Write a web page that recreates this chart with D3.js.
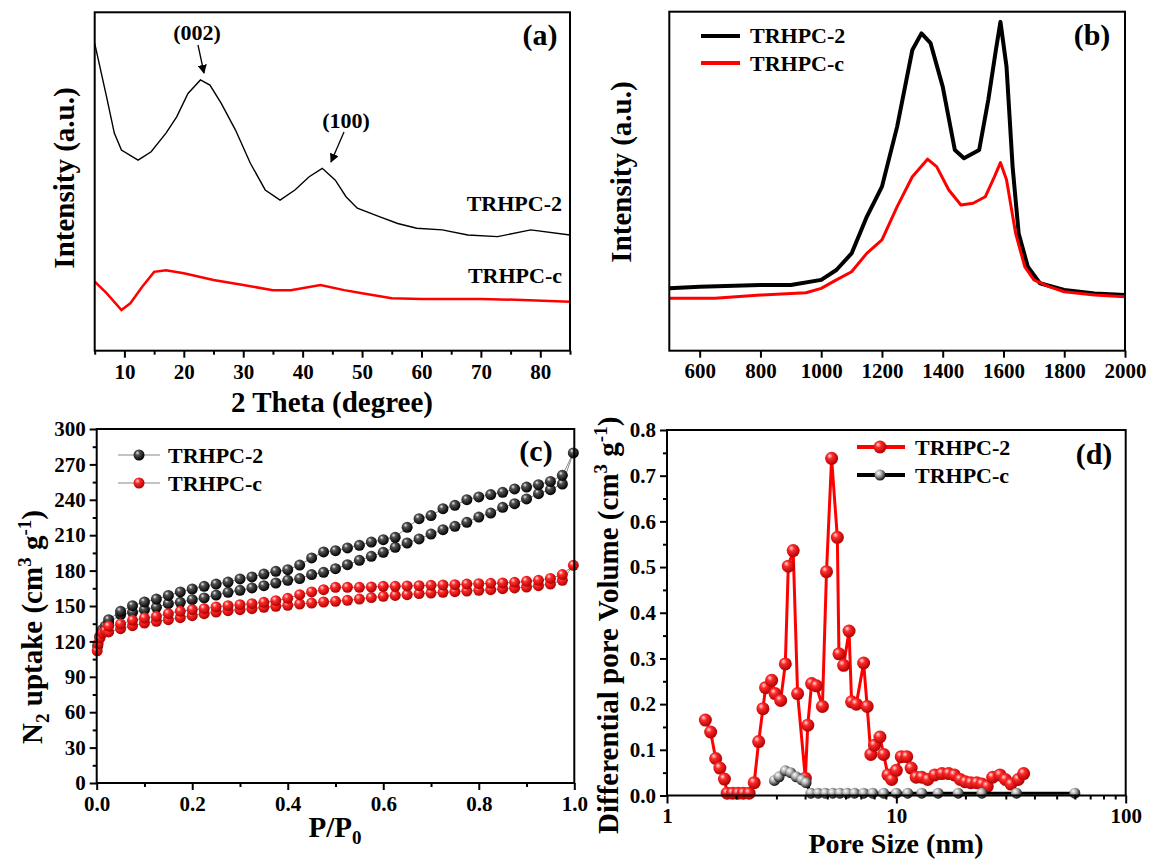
<!DOCTYPE html>
<html>
<head>
<meta charset="utf-8">
<script src="https://cdn.jsdelivr.net/npm/d3@7"></script>
<style>
body { margin: 0; background: #fff; }
svg { font-family: "Liberation Serif", "Times New Roman", serif; font-weight: bold; }
.axis text { font-size: 21px; font-weight: bold; fill: #000; font-family: "Liberation Serif", serif; }
.axis line { stroke: #000; stroke-width: 2; }
.axis path { display: none; }
</style>
</head>
<body>
<script>
// (a) XRD
var xrdTheta2 = [5, 7, 8.3, 9.5, 12.3, 14.5, 17, 18.8, 20.7, 22.8, 24.4, 26.3, 28.7, 31.2, 33.7, 36.2, 38.7, 41.1, 43.3, 45.5, 47.3, 49.2, 52.9, 56, 59.2, 63.5, 67.8, 72.8, 78.4, 85];
var xrdTRHPC2 = [90.8, 75, 64.3, 59.3, 56.3, 58.8, 64.3, 69.1, 76, 80, 78.5, 73.1, 65.2, 55.4, 47.5, 44.5, 47.5, 51.4, 53.9, 50.4, 45.5, 42.1, 39.6, 37.6, 36.2, 35.7, 34.2, 33.7, 35.7, 34.2];
var xrdThetaC = [5, 7, 9.5, 11, 13, 15, 17, 20, 25, 30, 35, 38, 43, 47, 50, 55, 60, 70, 77, 85];
var xrdTRHPCc = [20.4, 17, 12, 14, 18.9, 23.3, 23.8, 22.9, 20.9, 19.4, 17.9, 17.9, 19.4, 17.9, 17, 15.5, 15.3, 15.3, 15, 14.5];

// (b) Raman
var ramanShift2 = [500, 600, 800, 900, 1000, 1050, 1100, 1150, 1200, 1250, 1300, 1330, 1360, 1400, 1440, 1470, 1520, 1550, 1575, 1590, 1610, 1630, 1650, 1680, 1720, 1800, 1900, 2000];
var ramanTRHPC2 = [18.4, 18.9, 19.4, 19.4, 20.9, 23.8, 28.7, 39.5, 48.4, 66.1, 88.7, 93.6, 90.7, 77.9, 59.2, 56.8, 59.2, 74, 88.7, 97, 83.8, 54.3, 34.6, 24.8, 19.9, 17.9, 16.9, 16.4];
var ramanShiftC = [500, 650, 800, 950, 1000, 1050, 1100, 1150, 1200, 1250, 1300, 1350, 1380, 1420, 1460, 1500, 1540, 1570, 1590, 1610, 1640, 1670, 1700, 1750, 1800, 1900, 2000];
var ramanTRHPCc = [15.5, 15.5, 16.4, 17.1, 18.4, 20.9, 23.3, 28.7, 32.7, 42.5, 51.3, 56.5, 54.3, 47.4, 43, 43.5, 45.4, 51.3, 55.5, 50.4, 34.6, 24.8, 20.9, 18.9, 17.4, 16.4, 15.9];

// (c) N2 isotherms
var isoP = d3.range(1, 40).map(function(i) { return i * 0.025; });
var lowP2 = [0.002, 0.006, 0.012, 0.018];
var lowN2 = [116, 124, 130, 133];
var adsTRHPC2 = [135.6, 142.7, 144.6, 146.9, 148.9, 152, 153.1, 155.4, 156.8, 159.3, 161.6, 163.3, 165.3, 167.2, 169.5, 171.8, 173.2, 176.6, 178.5, 181.6, 185, 188.7, 192.1, 195.5, 199.7, 203.4, 206.8, 211, 214.7, 217.5, 220.9, 225.4, 228.8, 233.6, 236.7, 240.7, 245.2, 248.6, 253.4];
var desTRHPC2 = [138.4, 145.5, 150.3, 153.4, 155.9, 159, 161.9, 164.4, 166.7, 168.6, 170.3, 172.9, 174.6, 177.1, 179.4, 180.8, 184.7, 190.7, 195.8, 196.9, 199.2, 201.4, 204.2, 206.2, 208.2, 216.7, 224, 226.6, 232.5, 235.3, 240.1, 242.4, 244.4, 246.3, 249.2, 250.8, 252.8, 255.6, 260.7];
var topTRHPC2 = [0.998, 279.7];
var lowPc = [0.001, 0.003, 0.007, 0.012, 0.018];
var lowNc = [112, 118, 123, 127, 129];
var adsTRHPCc = [128, 130.8, 133.3, 135.6, 137, 138.4, 140.1, 141.8, 143.5, 144.9, 146, 146.9, 147.7, 148.9, 149.7, 150.6, 151.7, 152.5, 153.4, 154, 154.8, 155.9, 157.1, 158.2, 159, 159.6, 160.5, 161, 161.6, 162.1, 162.7, 163.3, 163.8, 164.7, 165.3, 166.1, 167.2, 168.6, 171.8];
var desTRHPCc = [132.8, 134.7, 137.9, 139.8, 141.2, 143.5, 145.5, 146.9, 147.7, 149.2, 150.3, 151.1, 152, 153.1, 154.5, 156.5, 159.6, 161.9, 163.8, 165.8, 165.8, 165.8, 166.1, 166.7, 166.7, 167, 167.2, 167.5, 167.8, 168.1, 168.6, 168.9, 169.2, 169.5, 170.1, 170.9, 171.8, 173.4, 176.6];
var topTRHPCc = [0.998, 184.5];

// (d) pore size distribution
var poreSize2 = [1.47, 1.55, 1.63, 1.70, 1.78, 1.83, 1.93, 2.04, 2.15, 2.28, 2.40, 2.51, 2.62, 2.69, 2.86, 2.96, 3.13, 3.28, 3.38, 3.55, 3.71, 4.01, 4.11, 4.27, 4.48, 4.76, 4.96, 5.22, 5.53, 5.62, 5.89, 6.22, 6.38, 6.69, 7.2, 7.46, 7.74, 8.03, 8.48, 8.8, 9.19, 9.54, 10, 10.5, 11.1, 11.6, 12.2, 12.9, 13.7, 14.7, 15.8, 16.9, 17.9, 19, 20, 21.1, 22.4, 23.6, 24.9, 26.3, 28.3, 29.9, 31.6, 34, 35.9];
var poreVol2 = [0.165, 0.139, 0.081, 0.06, 0.036, 0.005, 0.005, 0.005, 0.005, 0.005, 0.028, 0.118, 0.19, 0.236, 0.252, 0.223, 0.208, 0.288, 0.502, 0.536, 0.223, 0.038, 0.154, 0.245, 0.24, 0.195, 0.49, 0.738, 0.565, 0.31, 0.285, 0.36, 0.205, 0.2, 0.29, 0.195, 0.09, 0.11, 0.128, 0.09, 0.045, 0.035, 0.055, 0.085, 0.085, 0.06, 0.04, 0.04, 0.035, 0.045, 0.048, 0.048, 0.045, 0.035, 0.03, 0.028, 0.028, 0.025, 0.02, 0.04, 0.045, 0.035, 0.025, 0.035, 0.048];
var poreSizeC = [2.94, 3.08, 3.28, 3.46, 3.66, 3.87, 4.04, 4.24, 4.56, 4.9, 5.28, 5.67, 6.1, 6.57, 7.2, 7.88, 8.8, 10, 11.2, 12.9, 15.2, 18.6, 23.6, 33.4, 60];
var poreVolC = [0.033, 0.041, 0.054, 0.05, 0.041, 0.034, 0.028, 0.005, 0.005, 0.005, 0.005, 0.005, 0.005, 0.005, 0.005, 0.005, 0.005, 0.005, 0.005, 0.005, 0.005, 0.005, 0.005, 0.005, 0.005];

var svg = d3.select('body')
    .append('svg')
    .attr('width', 1149)
    .attr('height', 860);

var defs = svg.append('defs');
function ball(id, stops) {
    var g = defs.append('radialGradient').attr('id', id)
        .attr('cx', '40%').attr('cy', '38%').attr('r', '62%').attr('fx', '35%').attr('fy', '30%');
    stops.forEach(function(s) {
        g.append('stop').attr('offset', s[0]).attr('stop-color', s[1]);
    });
}
ball('ballBlack', [[0, '#f0f0f0'], [0.3, '#555'], [1, '#000']]);
ball('ballRed', [[0, '#ffe0e0'], [0.35, '#ff2a2a'], [1, '#b00000']]);
ball('ballGray', [[0, '#ffffff'], [0.45, '#aaaaaa'], [1, '#111']]);

var zip = function(a, b) { return a.map(function(d, i) { return [d, b[i]]; }); };

function frame(x, y) {
    svg.append('rect')
        .attr('x', x.range()[0]).attr('y', y.range()[1])
        .attr('width', x.range()[1] - x.range()[0])
        .attr('height', y.range()[0] - y.range()[1])
        .attr('fill', 'none').attr('stroke', '#000').attr('stroke-width', 2);
}

function xAxis(x, y, major, minor, size, pad, fmt) {
    svg.append('g').attr('class', 'axis')
        .attr('transform', 'translate(0,' + y.range()[0] + ')')
        .call(d3.axisBottom(x).tickValues(minor).tickSize(4).tickFormat(''));
    svg.append('g').attr('class', 'axis')
        .attr('transform', 'translate(0,' + y.range()[0] + ')')
        .call(d3.axisBottom(x).tickValues(major).tickSize(size).tickPadding(pad).tickFormat(fmt));
}

function yAxis(x, y, major, minor, fmt) {
    svg.append('g').attr('class', 'axis')
        .attr('transform', 'translate(' + x.range()[0] + ',0)')
        .call(d3.axisLeft(y).tickValues(minor).tickSize(4).tickFormat(''));
    svg.append('g').attr('class', 'axis')
        .attr('transform', 'translate(' + x.range()[0] + ',0)')
        .call(d3.axisLeft(y).tickValues(major).tickSize(7).tickPadding(4).tickFormat(fmt));
}

function label(x, y, txt, size, anchor) {
    return svg.append('text')
        .attr('x', x).attr('y', y)
        .attr('text-anchor', anchor || 'middle')
        .attr('dominant-baseline', 'central')
        .style('font-size', size + 'px')
        .text(txt);
}

function yTitle(x, y, anchor) {
    return svg.append('text')
        .attr('transform', 'translate(' + x + ',' + y + ') rotate(-90)')
        .attr('text-anchor', anchor)
        .style('font-size', '29px');
}

// ---------- (a) ----------
var xa = d3.scaleLinear().domain([5, 85]).range([94.7, 570]);
var ya = d3.scaleLinear().domain([0, 100]).range([350.7, 12.3]);
var lineA = d3.line().x(function(d) { return xa(d[0]); }).y(function(d) { return ya(d[1]); });

svg.append('path').datum(zip(xrdThetaC, xrdTRHPCc))
    .attr('d', lineA).attr('fill', 'none').attr('stroke', '#ff0000').attr('stroke-width', 2.5);
svg.append('path').datum(zip(xrdTheta2, xrdTRHPC2))
    .attr('d', lineA).attr('fill', 'none').attr('stroke', '#000').attr('stroke-width', 1.4);

xAxis(xa, ya, d3.range(10, 81, 10), d3.range(5, 86, 10), 7, 6, d3.format('d'));
frame(xa, ya);

label(197, 32, '(002)', 22);
label(346, 120, '(100)', 22);
defs.append('marker').attr('id', 'arrow').attr('viewBox', '0 0 10 10')
    .attr('refX', 9).attr('refY', 5).attr('markerWidth', 7).attr('markerHeight', 7)
    .attr('orient', 'auto')
    .append('path').attr('d', 'M0,0 L10,5 L0,10 z').attr('fill', '#000');
svg.append('line').attr('x1', 198).attr('y1', 45).attr('x2', 204).attr('y2', 73)
    .attr('stroke', '#000').attr('stroke-width', 1.3).attr('marker-end', 'url(#arrow)');
svg.append('line').attr('x1', 344).attr('y1', 132).attr('x2', 331).attr('y2', 162)
    .attr('stroke', '#000').attr('stroke-width', 1.3).attr('marker-end', 'url(#arrow)');
label(562, 203, 'TRHPC-2', 22, 'end');
label(562, 275, 'TRHPC-c', 22, 'end');
label(540, 34, '(a)', 30);
label(332, 402, '2 Theta (degree)', 29);
yTitle(74, 178, 'middle').text('Intensity (a.u.)');

// ---------- (b) ----------
var xb = d3.scaleLinear().domain([500, 2000]).range([669.3, 1125]);
var yb = d3.scaleLinear().domain([0, 100]).range([350.7, 11.7]);
var lineB = d3.line().x(function(d) { return xb(d[0]); }).y(function(d) { return yb(d[1]); });

svg.append('path').datum(zip(ramanShift2, ramanTRHPC2))
    .attr('d', lineB).attr('fill', 'none').attr('stroke', '#000').attr('stroke-width', 4)
    .attr('stroke-linejoin', 'round');
svg.append('path').datum(zip(ramanShiftC, ramanTRHPCc))
    .attr('d', lineB).attr('fill', 'none').attr('stroke', '#ff0000').attr('stroke-width', 3)
    .attr('stroke-linejoin', 'round');

xAxis(xb, yb, d3.range(600, 2001, 200), [], 7, 5, d3.format('d'));
frame(xb, yb);

svg.append('line').attr('x1', 701).attr('x2', 740).attr('y1', 36).attr('y2', 36)
    .attr('stroke', '#000').attr('stroke-width', 4);
svg.append('line').attr('x1', 701).attr('x2', 740).attr('y1', 63).attr('y2', 63)
    .attr('stroke', '#ff0000').attr('stroke-width', 4);
label(750, 35, 'TRHPC-2', 22, 'start');
label(750, 63, 'TRHPC-c', 22, 'start');
label(1092, 34, '(b)', 30);
yTitle(631, 172, 'middle').text('Intensity (a.u.)');

// ---------- (c) ----------
var xc = d3.scaleLinear().domain([0, 1]).range([96.7, 574.3]);
var yc = d3.scaleLinear().domain([0, 300]).range([783, 429]);
var lineC = d3.line().x(function(d) { return xc(d[0]); }).y(function(d) { return yc(d[1]); });

function isotherm(lowP, lowN, ads, des, top, grad) {
    var pts = zip(lowP, lowN)
        .concat(zip(isoP, ads))
        .concat([top])
        .concat(zip(isoP, des).reverse());
    svg.append('path').datum(pts)
        .attr('d', lineC).attr('fill', 'none').attr('stroke', '#888').attr('stroke-width', 1);
    svg.append('g').selectAll('circle').data(pts).enter()
        .append('circle')
        .attr('cx', function(d) { return xc(d[0]); })
        .attr('cy', function(d) { return yc(d[1]); })
        .attr('r', 5.5)
        .attr('fill', 'url(#' + grad + ')');
}
isotherm(lowP2, lowN2, adsTRHPC2, desTRHPC2, topTRHPC2, 'ballBlack');
isotherm(lowPc, lowNc, adsTRHPCc, desTRHPCc, topTRHPCc, 'ballRed');

xAxis(xc, yc, d3.range(0, 1.01, 0.2), d3.range(0.1, 1, 0.2), 7, 6, d3.format('.1f'));
yAxis(xc, yc, d3.range(0, 301, 30), d3.range(15, 300, 30), d3.format('d'));
frame(xc, yc);

[['TRHPC-2', 455, 'ballBlack'], ['TRHPC-c', 483, 'ballRed']].forEach(function(l) {
    svg.append('line').attr('x1', 118).attr('x2', 160).attr('y1', l[1]).attr('y2', l[1])
        .attr('stroke', '#888').attr('stroke-width', 1);
    svg.append('circle').attr('cx', 139).attr('cy', l[1]).attr('r', 5.5).attr('fill', 'url(#' + l[2] + ')');
    label(168, l[1], l[0], 22, 'start');
});
label(536, 450, '(c)', 30);

var tc = svg.append('text').attr('x', 335).attr('y', 837).attr('text-anchor', 'middle')
    .style('font-size', '29px');
tc.append('tspan').text('P/P');
tc.append('tspan').attr('dy', 7).style('font-size', '19px').text('0');

var yct = yTitle(42, 627, 'middle');
yct.append('tspan').text('N');
yct.append('tspan').attr('dy', 7).style('font-size', '19px').text('2');
yct.append('tspan').attr('dy', -7).text(' uptake (cm');
yct.append('tspan').attr('dy', -11).style('font-size', '19px').text('3');
yct.append('tspan').attr('dy', 11).text(' g');
yct.append('tspan').attr('dy', -11).style('font-size', '19px').text('-1');
yct.append('tspan').attr('dy', 11).text(')');

// ---------- (d) ----------
var xd = d3.scaleLog().domain([1, 100]).range([667, 1125.7]);
var yd = d3.scaleLinear().domain([0, 0.8]).range([795.5, 430]);
var lineD = d3.line().x(function(d) { return xd(d[0]); }).y(function(d) { return yd(d[1]); });

function psd(sizes, vols, color, grad, r) {
    var pts = zip(sizes, vols);
    svg.append('path').datum(pts)
        .attr('d', lineD).attr('fill', 'none').attr('stroke', color).attr('stroke-width', 3)
        .attr('stroke-linejoin', 'round');
    svg.append('g').selectAll('circle').data(pts).enter()
        .append('circle')
        .attr('cx', function(d) { return xd(d[0]); })
        .attr('cy', function(d) { return yd(d[1]); })
        .attr('r', r)
        .attr('fill', 'url(#' + grad + ')');
}
psd(poreSize2, poreVol2, '#ff0000', 'ballRed', 6.5);
psd(poreSizeC, poreVolC, '#000', 'ballGray', 5.5);

var minorD = [];
[1, 10].forEach(function(b) { d3.range(2, 10).forEach(function(m) { minorD.push(b * m); }); });
xAxis(xd, yd, [1, 10, 100], minorD, 8, 5, d3.format('d'));
yAxis(xd, yd, d3.range(0, 0.81, 0.1), d3.range(0.05, 0.8, 0.1), d3.format('.1f'));
frame(xd, yd);

[['TRHPC-2', 447, '#ff0000', 'ballRed', 6.5], ['TRHPC-c', 475, '#000', 'ballGray', 5.5]].forEach(function(l) {
    svg.append('line').attr('x1', 857).attr('x2', 905).attr('y1', l[1]).attr('y2', l[1])
        .attr('stroke', l[2]).attr('stroke-width', 4);
    svg.append('circle').attr('cx', 880).attr('cy', l[1]).attr('r', l[4]).attr('fill', 'url(#' + l[3] + ')');
    label(915, l[1], l[0], 22, 'start');
});
label(1094, 453, '(d)', 30);
label(896, 843, 'Pore Size (nm)', 28);

var ydt = yTitle(618, 834, 'start');
ydt.append('tspan').text('Differential pore Volume (cm');
ydt.append('tspan').attr('dy', -11).style('font-size', '19px').text('3');
ydt.append('tspan').attr('dy', 11).text(' g');
ydt.append('tspan').attr('dy', -11).style('font-size', '19px').text('-1');
ydt.append('tspan').attr('dy', 11).text(')');
</script>
</body>
</html>
